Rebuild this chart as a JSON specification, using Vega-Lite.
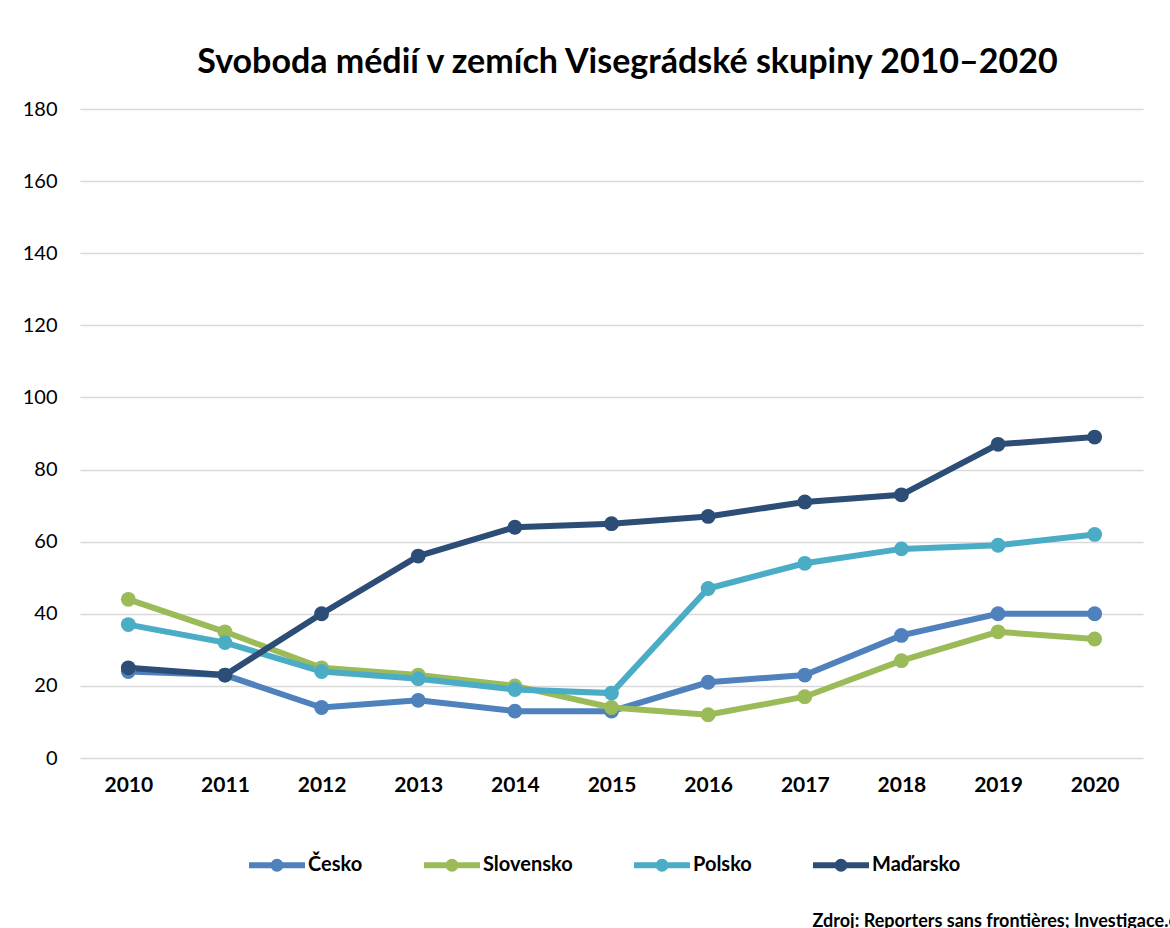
{
  "$schema": "https://vega.github.io/schema/vega-lite/v6.json",
  "width": 1063,
  "height": 649,
  "autosize": "none",
  "padding": {"left": 80, "top": 109, "right": 27, "bottom": 170},
  "background": "white",
  "title": {
    "text": "Svoboda médií v zemích Visegrádské skupiny 2010–2020",
    "font": "Lato", "fontSize": 34, "fontWeight": "bold", "color": "#000",
    "anchor": "middle", "frame": "group", "dx": 16, "offset": -8, "baseline": "alphabetic"
  },
  "data": {
    "values": [
      {"year": "2010", "country": "Česko", "rank": 24},
      {"year": "2011", "country": "Česko", "rank": 23},
      {"year": "2012", "country": "Česko", "rank": 14},
      {"year": "2013", "country": "Česko", "rank": 16},
      {"year": "2014", "country": "Česko", "rank": 13},
      {"year": "2015", "country": "Česko", "rank": 13},
      {"year": "2016", "country": "Česko", "rank": 21},
      {"year": "2017", "country": "Česko", "rank": 23},
      {"year": "2018", "country": "Česko", "rank": 34},
      {"year": "2019", "country": "Česko", "rank": 40},
      {"year": "2020", "country": "Česko", "rank": 40},
      {"year": "2010", "country": "Slovensko", "rank": 44},
      {"year": "2011", "country": "Slovensko", "rank": 35},
      {"year": "2012", "country": "Slovensko", "rank": 25},
      {"year": "2013", "country": "Slovensko", "rank": 23},
      {"year": "2014", "country": "Slovensko", "rank": 20},
      {"year": "2015", "country": "Slovensko", "rank": 14},
      {"year": "2016", "country": "Slovensko", "rank": 12},
      {"year": "2017", "country": "Slovensko", "rank": 17},
      {"year": "2018", "country": "Slovensko", "rank": 27},
      {"year": "2019", "country": "Slovensko", "rank": 35},
      {"year": "2020", "country": "Slovensko", "rank": 33},
      {"year": "2010", "country": "Polsko", "rank": 37},
      {"year": "2011", "country": "Polsko", "rank": 32},
      {"year": "2012", "country": "Polsko", "rank": 24},
      {"year": "2013", "country": "Polsko", "rank": 22},
      {"year": "2014", "country": "Polsko", "rank": 19},
      {"year": "2015", "country": "Polsko", "rank": 18},
      {"year": "2016", "country": "Polsko", "rank": 47},
      {"year": "2017", "country": "Polsko", "rank": 54},
      {"year": "2018", "country": "Polsko", "rank": 58},
      {"year": "2019", "country": "Polsko", "rank": 59},
      {"year": "2020", "country": "Polsko", "rank": 62},
      {"year": "2010", "country": "Maďarsko", "rank": 25},
      {"year": "2011", "country": "Maďarsko", "rank": 23},
      {"year": "2012", "country": "Maďarsko", "rank": 40},
      {"year": "2013", "country": "Maďarsko", "rank": 56},
      {"year": "2014", "country": "Maďarsko", "rank": 64},
      {"year": "2015", "country": "Maďarsko", "rank": 65},
      {"year": "2016", "country": "Maďarsko", "rank": 67},
      {"year": "2017", "country": "Maďarsko", "rank": 71},
      {"year": "2018", "country": "Maďarsko", "rank": 73},
      {"year": "2019", "country": "Maďarsko", "rank": 87},
      {"year": "2020", "country": "Maďarsko", "rank": 89}
    ]
  },
  "mark": {"type": "line", "strokeWidth": 6, "point": {"filled": true, "size": 220, "opacity": 1}},
  "encoding": {
    "x": {
      "field": "year", "type": "ordinal",
      "scale": {"type": "point", "padding": 0.5},
      "axis": {
        "title": "Zdroj: Reporters sans frontières; Investigace.cz",
        "titleFont": "Lato", "titleFontSize": 18, "titleFontWeight": "bold", "titleColor": "#000",
        "titleX": 732, "titleY": 168, "titleAlign": "left", "titleBaseline": "alphabetic",
        "labelAngle": 0, "labelFont": "Lato", "labelFontSize": 21, "labelFontWeight": "bold",
        "labelColor": "#000", "labelPadding": 16, "ticks": false, "domain": false, "grid": false
      }
    },
    "y": {
      "field": "rank", "type": "quantitative",
      "scale": {"domain": [0, 180]},
      "axis": {
        "title": null, "values": [0, 20, 40, 60, 80, 100, 120, 140, 160, 180],
        "labelFont": "Lato", "labelFontSize": 20, "labelColor": "#000", "labelPadding": 23,
        "ticks": false, "tickSize": 0, "domain": false, "grid": true,
        "gridColor": "#d9d9d9", "gridWidth": 1.5
      }
    },
    "color": {
      "field": "country", "type": "nominal",
      "scale": {"domain": ["Česko", "Slovensko", "Polsko", "Maďarsko"], "range": ["#4f81bd", "#9bbb59", "#4bacc6", "#2c4d75"]},
      "legend": {
        "title": null, "orient": "none", "direction": "horizontal",
        "legendX": 166, "legendY": 725,
        "symbolType": "M-1,0L1,0M-0.125,0A0.125,0.125 0 1,0 0.125,0A0.125,0.125 0 1,0 -0.125,0",
        "symbolSize": 3136, "symbolStrokeWidth": 6,
        "labelFont": "Lato", "labelFontSize": 20, "labelFontWeight": "bold", "labelColor": "#000",
        "labelOffset": 0, "columnPadding": 49, "padding": 0
      }
    }
  },
  "config": {"view": {"stroke": null}}
}
